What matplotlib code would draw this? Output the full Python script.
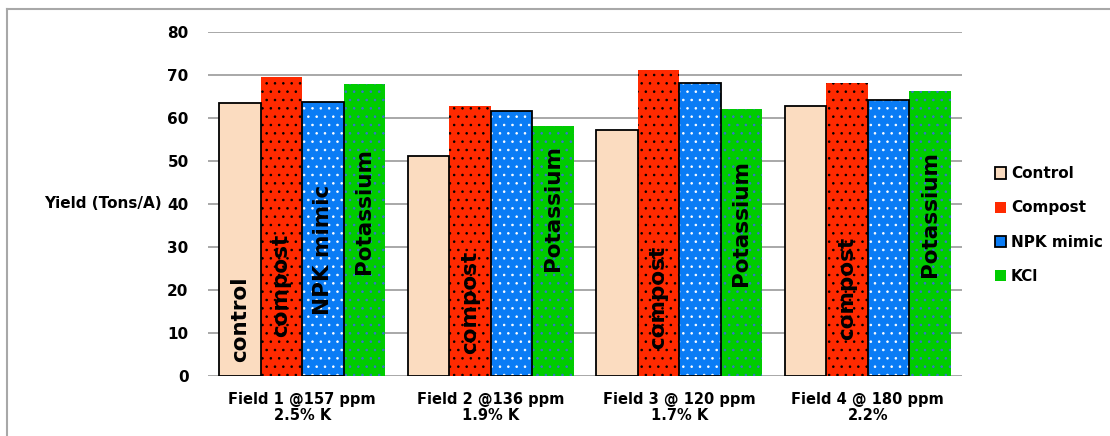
import numpy as np
import matplotlib
matplotlib.use("Agg")
import matplotlib.pyplot as plt
from matplotlib.patches import Patch
from matplotlib.lines import Line2D

fields = ["Field 1 @157 ppm\n2.5% K", "Field 2 @136 ppm\n1.9% K",
          "Field 3 @ 120 ppm\n1.7% K", "Field 4 @ 180 ppm\n2.2%"]
series = ["Control", "Compost", "NPK mimic", "KCl"]
control = [63.5, 51.2, 57.2, 62.8]
compost = [69.5, 62.7, 71.2, 68.0]
npk = [63.6, 61.6, 68.1, 64.0]
kcl = [67.9, 58.0, 62.0, 66.3]

# labels written inside bars: (field index, series index, text, y centre)
bar_notes = [(0, 0, "control", 13.2), (0, 1, "compost", 20.9),
             (0, 2, "NPK mimic", 29.3), (0, 3, "Potassium", 38.3),
             (1, 1, "compost", 17.1), (1, 3, "Potassium", 39.0),
             (2, 1, "compost", 18.3), (2, 3, "Potassium", 35.6),
             (3, 1, "compost", 20.2), (3, 3, "Potassium", 37.6)]

plt.rcParams['font.family'] = ['DejaVu Sans']
plt.rcParams['font.weight'] = 'bold'
plt.rcParams['hatch.linewidth'] = 0.6

fig = plt.figure(figsize=(11.1, 4.36), dpi=100)
ax = fig.add_axes([0.1874, 0.1383, 0.6793, 0.789])

styles = [  # face, hatch colour, hatch, outline
    ("#fbdcc0", "#fbdcc0", None, "black"),
    ("#ff2a00", "black", "..", None),
    ("#0a7cf5", "white", "..", "black"),
    ("#00cc00", "#3a6fd0", "..", None),
]
values = [control, compost, npk, kcl]
w = 0.22
x = np.arange(len(fields))
handles = []
for i, (vals, (fc, hc, hatch, oc)) in enumerate(zip(values, styles)):
    pos = x + (i - 1.5) * w
    ax.bar(pos, vals, w, color=fc, edgecolor=hc, hatch=hatch, linewidth=0, zorder=2)
    if oc:
        ax.bar(pos, vals, w, facecolor="none", edgecolor=oc, linewidth=1.3, zorder=3)
    handles.append(Patch(facecolor=fc, edgecolor=oc if oc else fc, linewidth=1.3 if oc else 0))

for g, s, txt, yc in bar_notes:
    ax.text(x[g] + (s - 1.5) * w, yc, txt, rotation=90, ha="center", va="center",
            fontsize=15.5, fontweight="bold", color="black", zorder=4)

ax.set_xlim(-0.5, 3.5)
ax.set_ylim(0, 80)
ax.set_yticks(range(0, 81, 10))
ax.yaxis.grid(True, color="#a8a8a8", linewidth=1.4, zorder=0)
ax.set_axisbelow(True)
for sp in ax.spines.values():
    sp.set_visible(False)
ax.tick_params(axis="y", length=0, pad=14, labelsize=11)
ax.tick_params(axis="x", length=0, pad=12, labelsize=10.5)
ax.set_xticks(x)
ax.set_xticklabels(fields, linespacing=1.05)
ax.set_ylabel("Yield (Tons/A)", rotation=0, fontsize=11, fontweight="bold",
              ha="right", va="center")
ax.yaxis.set_label_coords(-0.062, 0.5)

fig.legend(handles, series, loc="center left", bbox_to_anchor=(0.884, 0.484),
           frameon=False, fontsize=11, handlelength=0.75, handleheight=0.75,
           handletextpad=0.3, labelspacing=1.25)

# grey frame (left and top edge visible)
fig.add_artist(Line2D([7 / 1110, 7 / 1110], [0, 1 - 9 / 436], color="#a8a8a8", lw=1.5))
fig.add_artist(Line2D([7 / 1110, 1], [1 - 9 / 436, 1 - 9 / 436], color="#a8a8a8", lw=1.5))

fig.savefig("out.png", dpi=100)
